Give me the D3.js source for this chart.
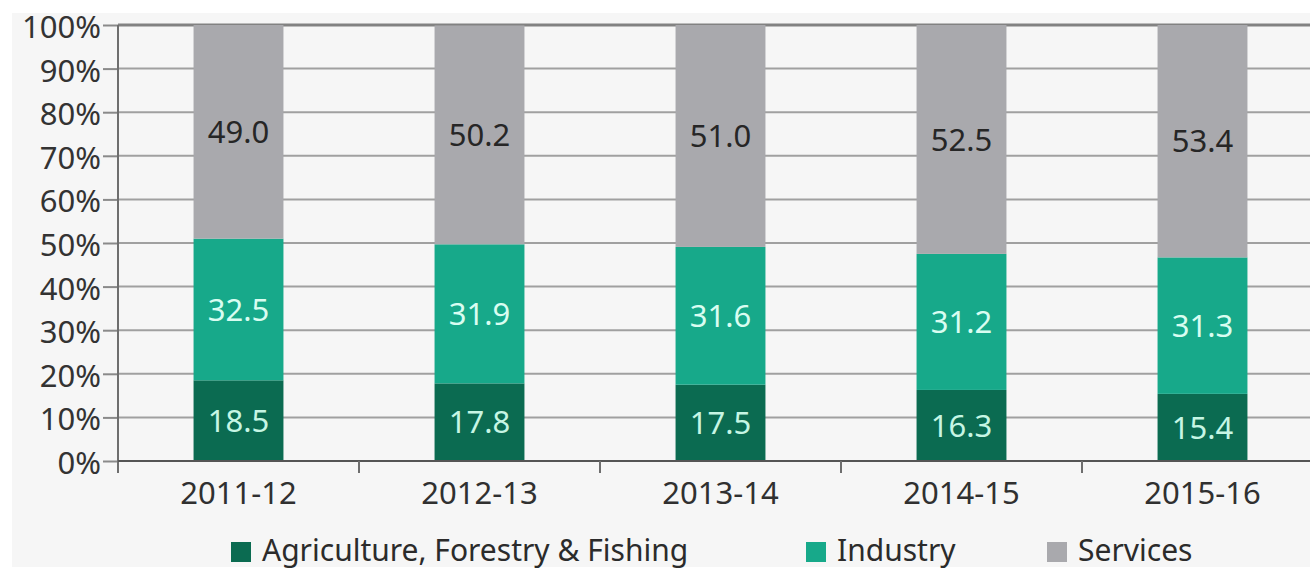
<!DOCTYPE html>
<html>
<head>
<meta charset="utf-8">
<script src="https://cdn.jsdelivr.net/npm/d3@7"></script>
<style>
  html, body { margin: 0; padding: 0; background: #ffffff; }
  svg { display: block; }
  text { font-family: "Noto Sans", "Open Sans", sans-serif; }
</style>
</head>
<body>
<svg id="chart" width="1310" height="570"></svg>
<script>
// Sectoral share of gross value added, by year (%)
const years = ["2011-12", "2012-13", "2013-14", "2014-15", "2015-16"];
const agriculture = [18.5, 17.8, 17.5, 16.3, 15.4];
const industry = [32.5, 31.9, 31.6, 31.2, 31.3];
const services = [49.0, 50.2, 51.0, 52.5, 53.4];
const seriesNames = ["Agriculture, Forestry & Fishing", "Industry", "Services"];
const yTicks = [0, 10, 20, 30, 40, 50, 60, 70, 80, 90, 100];

const colors = ["#0b6b51", "#17a98a", "#a9a9ad"];
const labelColors = ["#c6f6e4", "#d9fdf1", "#262626"];
const FONT = 31;

const svg = d3.select("#chart");
const W = 1310, H = 570;
const panel = { x: 12, y: 13, w: W - 12, h: 554 };

svg.append("defs").append("clipPath").attr("id", "panelClip")
  .append("rect").attr("x", panel.x).attr("y", panel.y).attr("width", panel.w).attr("height", panel.h);

svg.append("rect").attr("x", panel.x).attr("y", panel.y)
  .attr("width", panel.w).attr("height", panel.h).attr("fill", "#f6f6f6");

const g = svg.append("g").attr("clip-path", "url(#panelClip)");

const x = d3.scaleBand().domain(years).range([118, 1323])
  .paddingInner(0.627).paddingOuter(0.3135);
const y = d3.scaleLinear().domain([0, 100]).range([461, 25]);

const rows = years.map((yr, i) => ({
  year: yr,
  [seriesNames[0]]: agriculture[i],
  [seriesNames[1]]: industry[i],
  [seriesNames[2]]: services[i]
}));
const stacked = d3.stack().keys(seriesNames)(rows);

// horizontal gridlines
g.append("g").selectAll("line").data(yTicks.filter(t => t > 0)).join("line")
  .attr("x1", 118).attr("x2", W)
  .attr("y1", d => y(d)).attr("y2", d => y(d))
  .attr("stroke", d => d === 100 ? "#828282" : "#a0a0a0")
  .attr("stroke-width", d => d === 100 ? 3 : 2);

// stacked bars
stacked.forEach((layer, si) => {
  g.append("g").selectAll("rect").data(layer).join("rect")
    .attr("x", d => x(d.data.year))
    .attr("width", x.bandwidth())
    .attr("y", d => y(Math.min(d[1], 100)))
    .attr("height", d => y(d[0]) - y(Math.min(d[1], 100)))
    .attr("fill", colors[si]);
});

// value labels
stacked.forEach((layer, si) => {
  g.append("g").selectAll("text").data(layer).join("text")
    .attr("x", d => x(d.data.year) + x.bandwidth() / 2)
    .attr("y", d => (y(d[0]) + y(Math.min(d[1], 100))) / 2)
    .attr("dy", "0.36em")
    .attr("text-anchor", "middle")
    .attr("font-size", FONT)
    .attr("fill", labelColors[si])
    .text(d => (d[1] - d[0]).toFixed(1));
});

// y axis
const yAxis = g.append("g").attr("transform", "translate(118,0)")
  .call(d3.axisLeft(y).tickValues(yTicks).tickSize(15).tickPadding(2).tickFormat(d => d + "%"));
yAxis.select(".domain").remove();
yAxis.selectAll(".tick line").attr("stroke", "#8a8a8a").attr("stroke-width", 2);
yAxis.selectAll(".tick text").attr("font-size", FONT).attr("fill", "#333")
  .attr("font-family", "Noto Sans").attr("dy", "0.4em");
g.append("line").attr("x1", 118).attr("x2", 118).attr("y1", 25).attr("y2", 473)
  .attr("stroke", "#6e6e6e").attr("stroke-width", 2);

// x axis baseline, separators and labels
g.append("line").attr("x1", 118).attr("x2", W).attr("y1", y(0)).attr("y2", y(0))
  .attr("stroke", "#555").attr("stroke-width", 2);
const step = x.step();
g.append("g").selectAll("line").data(years).join("line")
  .attr("x1", d => x(d) + x.bandwidth() / 2 + step / 2)
  .attr("x2", d => x(d) + x.bandwidth() / 2 + step / 2)
  .attr("y1", y(0)).attr("y2", y(0) + 12)
  .attr("stroke", "#6e6e6e").attr("stroke-width", 2);
g.append("g").selectAll("text").data(years).join("text")
  .attr("x", d => x(d) + x.bandwidth() / 2)
  .attr("y", 504)
  .attr("text-anchor", "middle")
  .attr("font-size", FONT)
  .attr("fill", "#303030")
  .text(d => d);

// legend
const legendX = [231, 806, 1047];
const leg = svg.append("g").selectAll("g").data(seriesNames).join("g")
  .attr("transform", (d, i) => `translate(${legendX[i]},0)`);
leg.append("rect").attr("x", 0).attr("y", 542).attr("width", 20).attr("height", 20)
  .attr("fill", (d, i) => colors[i]);
leg.append("text").attr("x", 31).attr("y", 561)
  .attr("font-size", 30).attr("fill", "#2b2b2b")
  .text(d => d);
</script>
</body>
</html>
